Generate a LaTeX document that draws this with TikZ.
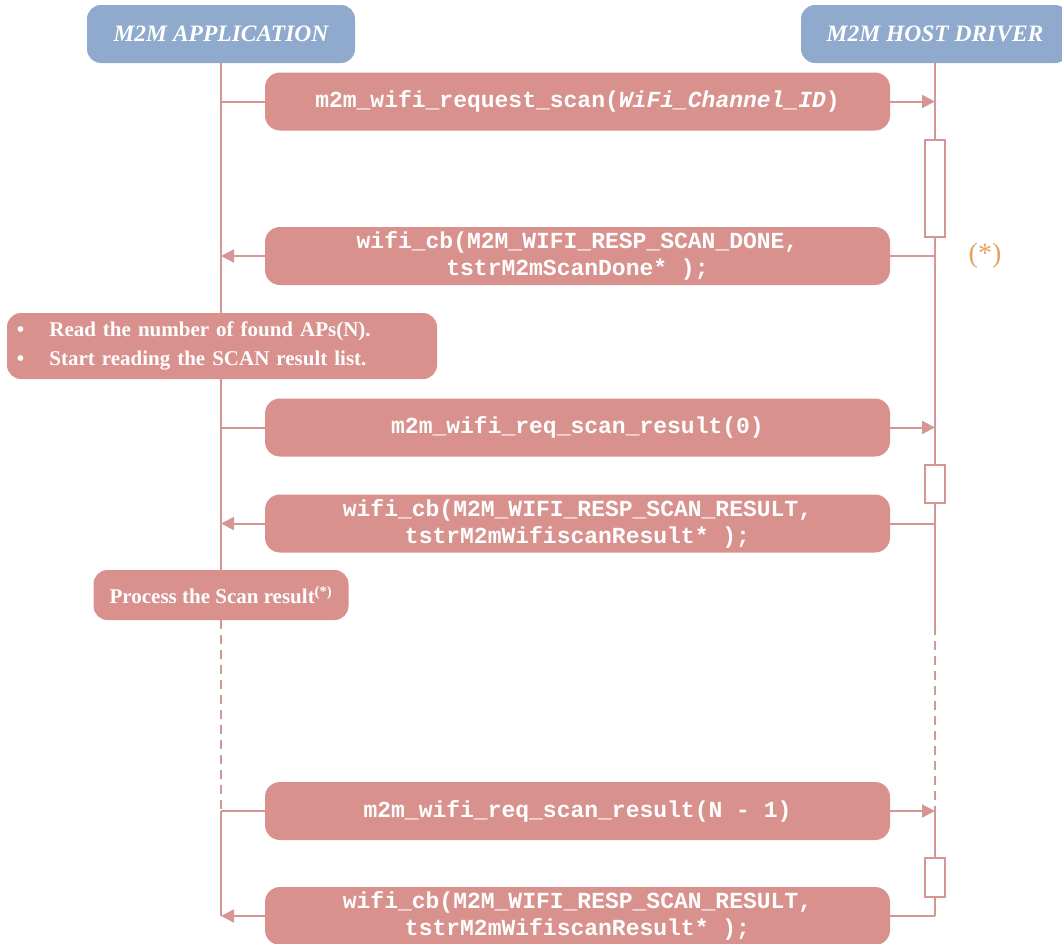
\documentclass[tikz,border=0pt]{standalone}
\usepackage{fontspec}
\setmainfont{Liberation Serif}
\newfontfamily\codefont{Liberation Mono}
\usetikzlibrary{arrows.meta}
\definecolor{headblue}{RGB}{143,170,204}
\definecolor{msgpink}{RGB}{216,145,141}
\definecolor{linepink}{RGB}{214,150,148}
\definecolor{noteorange}{RGB}{233,160,92}
\tikzset{
  x=1pt, y=-1pt,
  header/.style={draw=none, fill=headblue, rounded corners=14pt, minimum width=268pt,
    minimum height=58pt, text=white, font=\fontsize{23.5}{26}\selectfont\bfseries\itshape},
  msgbox/.style={draw=none, fill=msgpink, rounded corners=15pt, minimum width=625pt,
    minimum height=58pt, text=white, align=center,
    font=\fontsize{23}{27}\selectfont\codefont\bfseries},
  notebox/.style={draw=none, fill=msgpink, rounded corners=14pt, text=white,
    font=\fontsize{21}{29}\selectfont\bfseries},
  actbox/.style={draw=linepink, line width=1.6pt, fill=white, minimum width=20pt, inner sep=0pt},
  life/.style={draw=linepink, line width=2pt},
  lifedash/.style={draw=linepink, line width=2pt, dash pattern=on 9pt off 6pt},
  msgline/.style={draw=linepink, line width=2pt},
  msgarrow/.style={draw=linepink, line width=2pt, -{Triangle[length=13pt,width=13pt]}},
}
\begin{document}
\begin{tikzpicture}
\useasboundingbox (0,0) rectangle (1062,943);

% lifeline heads
\node[header] (app) at (221,34) {M2M APPLICATION};
\node[header] (host) at (935,34) {M2M HOST DRIVER};

% lifeline anchor points
\coordinate (Lsolid) at (221,620);
\coordinate (Rsolid) at (935,626);
\coordinate (Lbot) at (221,811);
\coordinate (Rbot) at (935,811);
\coordinate (Lend) at (221,916);
\coordinate (Rend) at (935,916);

% lifelines, drawn first so the boxes sit on top
\draw[life] (app.south) -- (Lsolid);
\draw[lifedash] (Lsolid) -- (Lbot);
\draw[life] (Lbot) -- (Lend);
\draw[life] (host.south) -- (Rsolid);
\draw[lifedash] (Rsolid) -- (Rbot);
\draw[life] (Rbot) -- (Rend);

% activation bars on the driver side
\node[actbox, minimum height=97pt] (act1) at (935,188.5) {};
\node[actbox, minimum height=38pt] (act2) at (935,484) {};
\node[actbox, minimum height=39pt] (act3) at (935,877.5) {};

% messages
\node[msgbox] (m1) at (577.5,101.5) {m2m\_wifi\_request\_scan(\textit{WiFi\_Channel\_ID})};
\node[msgbox] (m2) at (577.5,256) {wifi\_cb(M2M\_WIFI\_RESP\_SCAN\_DONE,\\tstrM2mScanDone* );};
\node[msgbox] (m3) at (577.5,427.5) {m2m\_wifi\_req\_scan\_result(0)};
\node[msgbox] (m4) at (577.5,523.5) {wifi\_cb(M2M\_WIFI\_RESP\_SCAN\_RESULT,\\tstrM2mWifiscanResult* );};
\node[msgbox] (m5) at (577.5,811) {m2m\_wifi\_req\_scan\_result(N - 1)};
\node[msgbox] (m6) at (577.5,916) {wifi\_cb(M2M\_WIFI\_RESP\_SCAN\_RESULT,\\tstrM2mWifiscanResult* );};

% application-side notes
\node[notebox, text width=412pt, inner xsep=9pt, minimum height=66pt, align=left] (n1) at (222,346)
  {\hspace*{1pt}\textbullet\hspace{25pt}Read the number of found APs(N).\\
   \hspace*{1pt}\textbullet\hspace{25pt}Start reading the SCAN result list.};
\node[notebox, minimum width=255pt, minimum height=50pt] (n2) at (221,595)
  {Process the Scan result\textsuperscript{(*)}};

% points where messages meet the lifelines
\coordinate (L1) at (221,101.5);
\coordinate (R1) at (935,101.5);
\coordinate (L2) at (221,256);
\coordinate (R2) at (935,256);
\coordinate (L3) at (221,427.5);
\coordinate (R3) at (935,427.5);
\coordinate (L4) at (221,523.5);
\coordinate (R4) at (935,523.5);

% message connectors
\draw[msgline] (L1) -- (m1.west);
\draw[msgarrow] (m1.east) -- (R1);
\draw[msgline] (R2) -- (m2.east);
\draw[msgarrow] (m2.west) -- (L2);
\draw[msgline] (L3) -- (m3.west);
\draw[msgarrow] (m3.east) -- (R3);
\draw[msgline] (R4) -- (m4.east);
\draw[msgarrow] (m4.west) -- (L4);
\draw[msgline] (Lbot) -- (m5.west);
\draw[msgarrow] (m5.east) -- (Rbot);
\draw[msgline] (Rend) -- (m6.east);
\draw[msgarrow] (m6.west) -- (Lend);

% footnote marker beside the scan wait
\node[text=noteorange, font=\fontsize{28}{30}\selectfont] (star) at (985,256) {(*)};
\end{tikzpicture}
\end{document}
